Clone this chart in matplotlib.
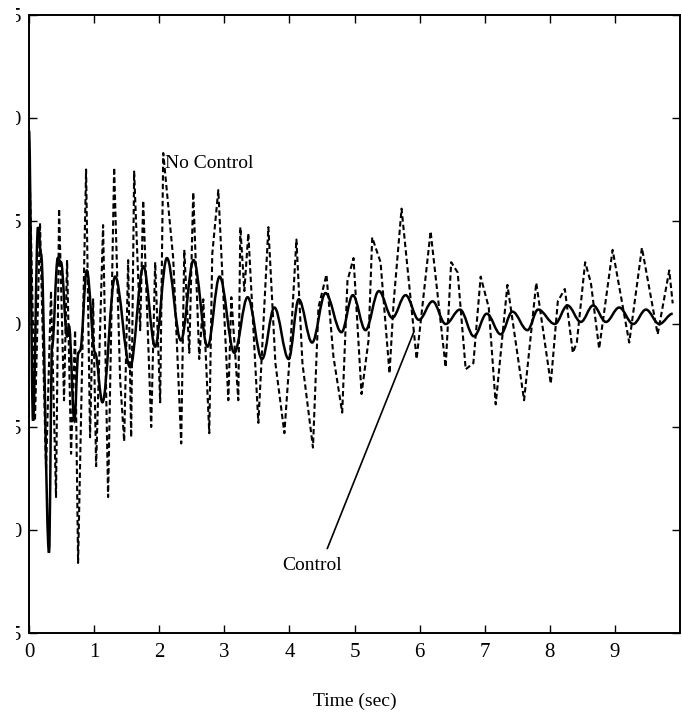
import matplotlib
matplotlib.use("Agg")
import matplotlib.pyplot as plt
from matplotlib.transforms import Bbox
from matplotlib.path import Path
from matplotlib.patches import PathPatch

# ---- data ----
control_t = [0.000, 0.062, 0.138, 0.185, 0.308, 0.354, 0.442, 0.492, 0.585, 0.615,
             0.697, 0.758, 0.785, 0.888, 1.015, 1.128, 1.323, 1.554, 1.758, 1.938,
             2.118, 2.334, 2.528, 2.743, 2.928, 3.154, 3.358, 3.580, 3.769, 3.989,
             4.143, 4.349, 4.554, 4.800, 4.974, 5.169, 5.374, 5.580, 5.785, 5.989,
             6.200, 6.400, 6.620, 6.835, 7.031, 7.246, 7.426, 7.657, 7.820, 8.077,
             8.272, 8.477, 8.666, 8.862, 9.066, 9.282, 9.477, 9.682, 9.888]
control_v = [0.094, -0.047, 0.047, 0.034, -0.111, -0.011, 0.032, 0.030, -0.006, -0.001,
             -0.047, -0.014, -0.013, 0.026, -0.014, -0.038, 0.023, -0.021, 0.028, -0.011,
             0.032, -0.008, 0.031, -0.011, 0.023, -0.014, 0.013, -0.017, 0.008, -0.017,
             0.012, -0.009, 0.015, -0.004, 0.014, -0.003, 0.016, 0.003, 0.014, 0.002,
             0.011, 0.000, 0.007, -0.006, 0.005, -0.005, 0.006, -0.003, 0.007, 0.000,
             0.009, 0.001, 0.009, 0.001, 0.008, 0.000, 0.007, 0.000, 0.005]

nocontrol_t = [0.000, 0.092, 0.169, 0.262, 0.338, 0.415, 0.462, 0.538, 0.585, 0.646,
               0.708, 0.754, 0.877, 0.938, 0.985, 1.031, 1.138, 1.215, 1.308, 1.400,
               1.462, 1.523, 1.569, 1.615, 1.708, 1.754, 1.877, 1.938, 2.015, 2.062,
               2.215, 2.338, 2.385, 2.462, 2.523, 2.615, 2.677, 2.769, 2.815, 2.908,
               3.062, 3.108, 3.215, 3.246, 3.308, 3.369, 3.523, 3.677, 3.785, 3.923,
               4.015, 4.108, 4.200, 4.362, 4.446, 4.569, 4.677, 4.811, 4.892, 4.985,
               5.108, 5.215, 5.272, 5.400, 5.538, 5.600, 5.723, 5.954, 6.169, 6.400,
               6.485, 6.585, 6.708, 6.826, 6.938, 7.062, 7.169, 7.349, 7.605, 7.792,
               8.015, 8.123, 8.231, 8.354, 8.415, 8.543, 8.631, 8.758, 8.965, 9.220,
               9.415, 9.657, 9.835, 9.888]
nocontrol_v = [0.089, -0.047, 0.049, -0.071, 0.016, -0.084, 0.056, -0.037, 0.031, -0.063,
               -0.003, -0.116, 0.075, -0.055, 0.012, -0.069, 0.048, -0.084, 0.076, -0.027,
               -0.057, 0.031, -0.055, 0.074, -0.003, 0.060, -0.050, 0.030, -0.038, 0.083,
               0.032, -0.058, 0.036, -0.014, 0.064, -0.017, 0.012, -0.053, 0.034, 0.065,
               -0.037, 0.013, -0.037, 0.047, 0.016, 0.044, -0.048, 0.047, -0.019, -0.053,
               -0.011, 0.041, -0.019, -0.060, 0.008, 0.024, -0.016, -0.043, 0.021, 0.032,
               -0.034, -0.008, 0.042, 0.030, -0.024, 0.010, 0.056, -0.017, 0.045, -0.021,
               0.030, 0.025, -0.022, -0.019, 0.023, 0.008, -0.039, 0.019, -0.037, 0.020,
               -0.029, 0.011, 0.017, -0.014, -0.009, 0.030, 0.020, -0.012, 0.036, -0.009,
               0.037, -0.005, 0.026, 0.010]

x_ticks = [0, 1, 2, 3, 4, 5, 6, 7, 8, 9]
y_ticks = [-0.15, -0.10, -0.05, 0.0, 0.05, 0.10, 0.15]
y_tick_labels = ["-0.15", "-0.10", "-0.05", "0.00", "0.05", "0.10", "0.15"]

plt.rcParams['font.family'] = ['Liberation Serif', 'DejaVu Serif']

W, H = 682, 718
fig = plt.figure(figsize=(W / 100, H / 100), dpi=100)
ax = fig.add_axes([29 / W, 1 - 633 / H, (680 - 29) / W, (633 - 15) / H])

# No Control: dashed polyline through the read points
ax.plot(nocontrol_t, nocontrol_v, color='black', lw=1.5, linestyle=(0, (2.6, 1.5)),
        label='No Control')

# Control: smooth curve through the read extrema (flat tangents at each extremum)
verts = [(control_t[0], control_v[0])]
codes = [Path.MOVETO]
for i in range(1, len(control_t)):
    t0, v0 = control_t[i - 1], control_v[i - 1]
    t1, v1 = control_t[i], control_v[i]
    dt = t1 - t0
    verts += [(t0 + 0.36 * dt, v0), (t1 - 0.36 * dt, v1), (t1, v1)]
    codes += [Path.CURVE4, Path.CURVE4, Path.CURVE4]
ax.add_patch(PathPatch(Path(verts, codes), fill=False, edgecolor='black', lw=1.8,
                       label='Control'))

ax.set_xlim(0, 10)
ax.set_ylim(-0.15, 0.15)
ax.set_xticks(x_ticks)
ax.set_xticklabels([str(v) for v in x_ticks])
ax.set_yticks(y_ticks)
ax.set_yticklabels(y_tick_labels)

ax.tick_params(axis='both', direction='in', length=6, width=1.0, top=True, right=True,
               labelsize=15)
ax.tick_params(axis='x', pad=7)
ax.tick_params(axis='y', pad=5)
for sp in ax.spines.values():
    sp.set_linewidth(1.4)

ax.set_xlabel('Time (sec)', fontsize=14, labelpad=22)

ax.text(2.09, 0.078, 'No Control', fontsize=14, ha='left', va='center')
ax.annotate('Control', xy=(5.91, -0.004), xytext=(4.35, -0.117),
            fontsize=14, ha='center', va='center',
            arrowprops=dict(arrowstyle='-', lw=1.2, color='black',
                            relpos=(0.7, 1.0), shrinkA=4, shrinkB=0))

# the scanned original shows only the right part of the y tick labels
clip = Bbox.from_extents(16, 0, W, H)
for tk in ax.yaxis.get_major_ticks():
    tk.label1.set_clip_box(clip)
    tk.label1.set_clip_on(True)

fig.savefig('out.png', dpi=100)
